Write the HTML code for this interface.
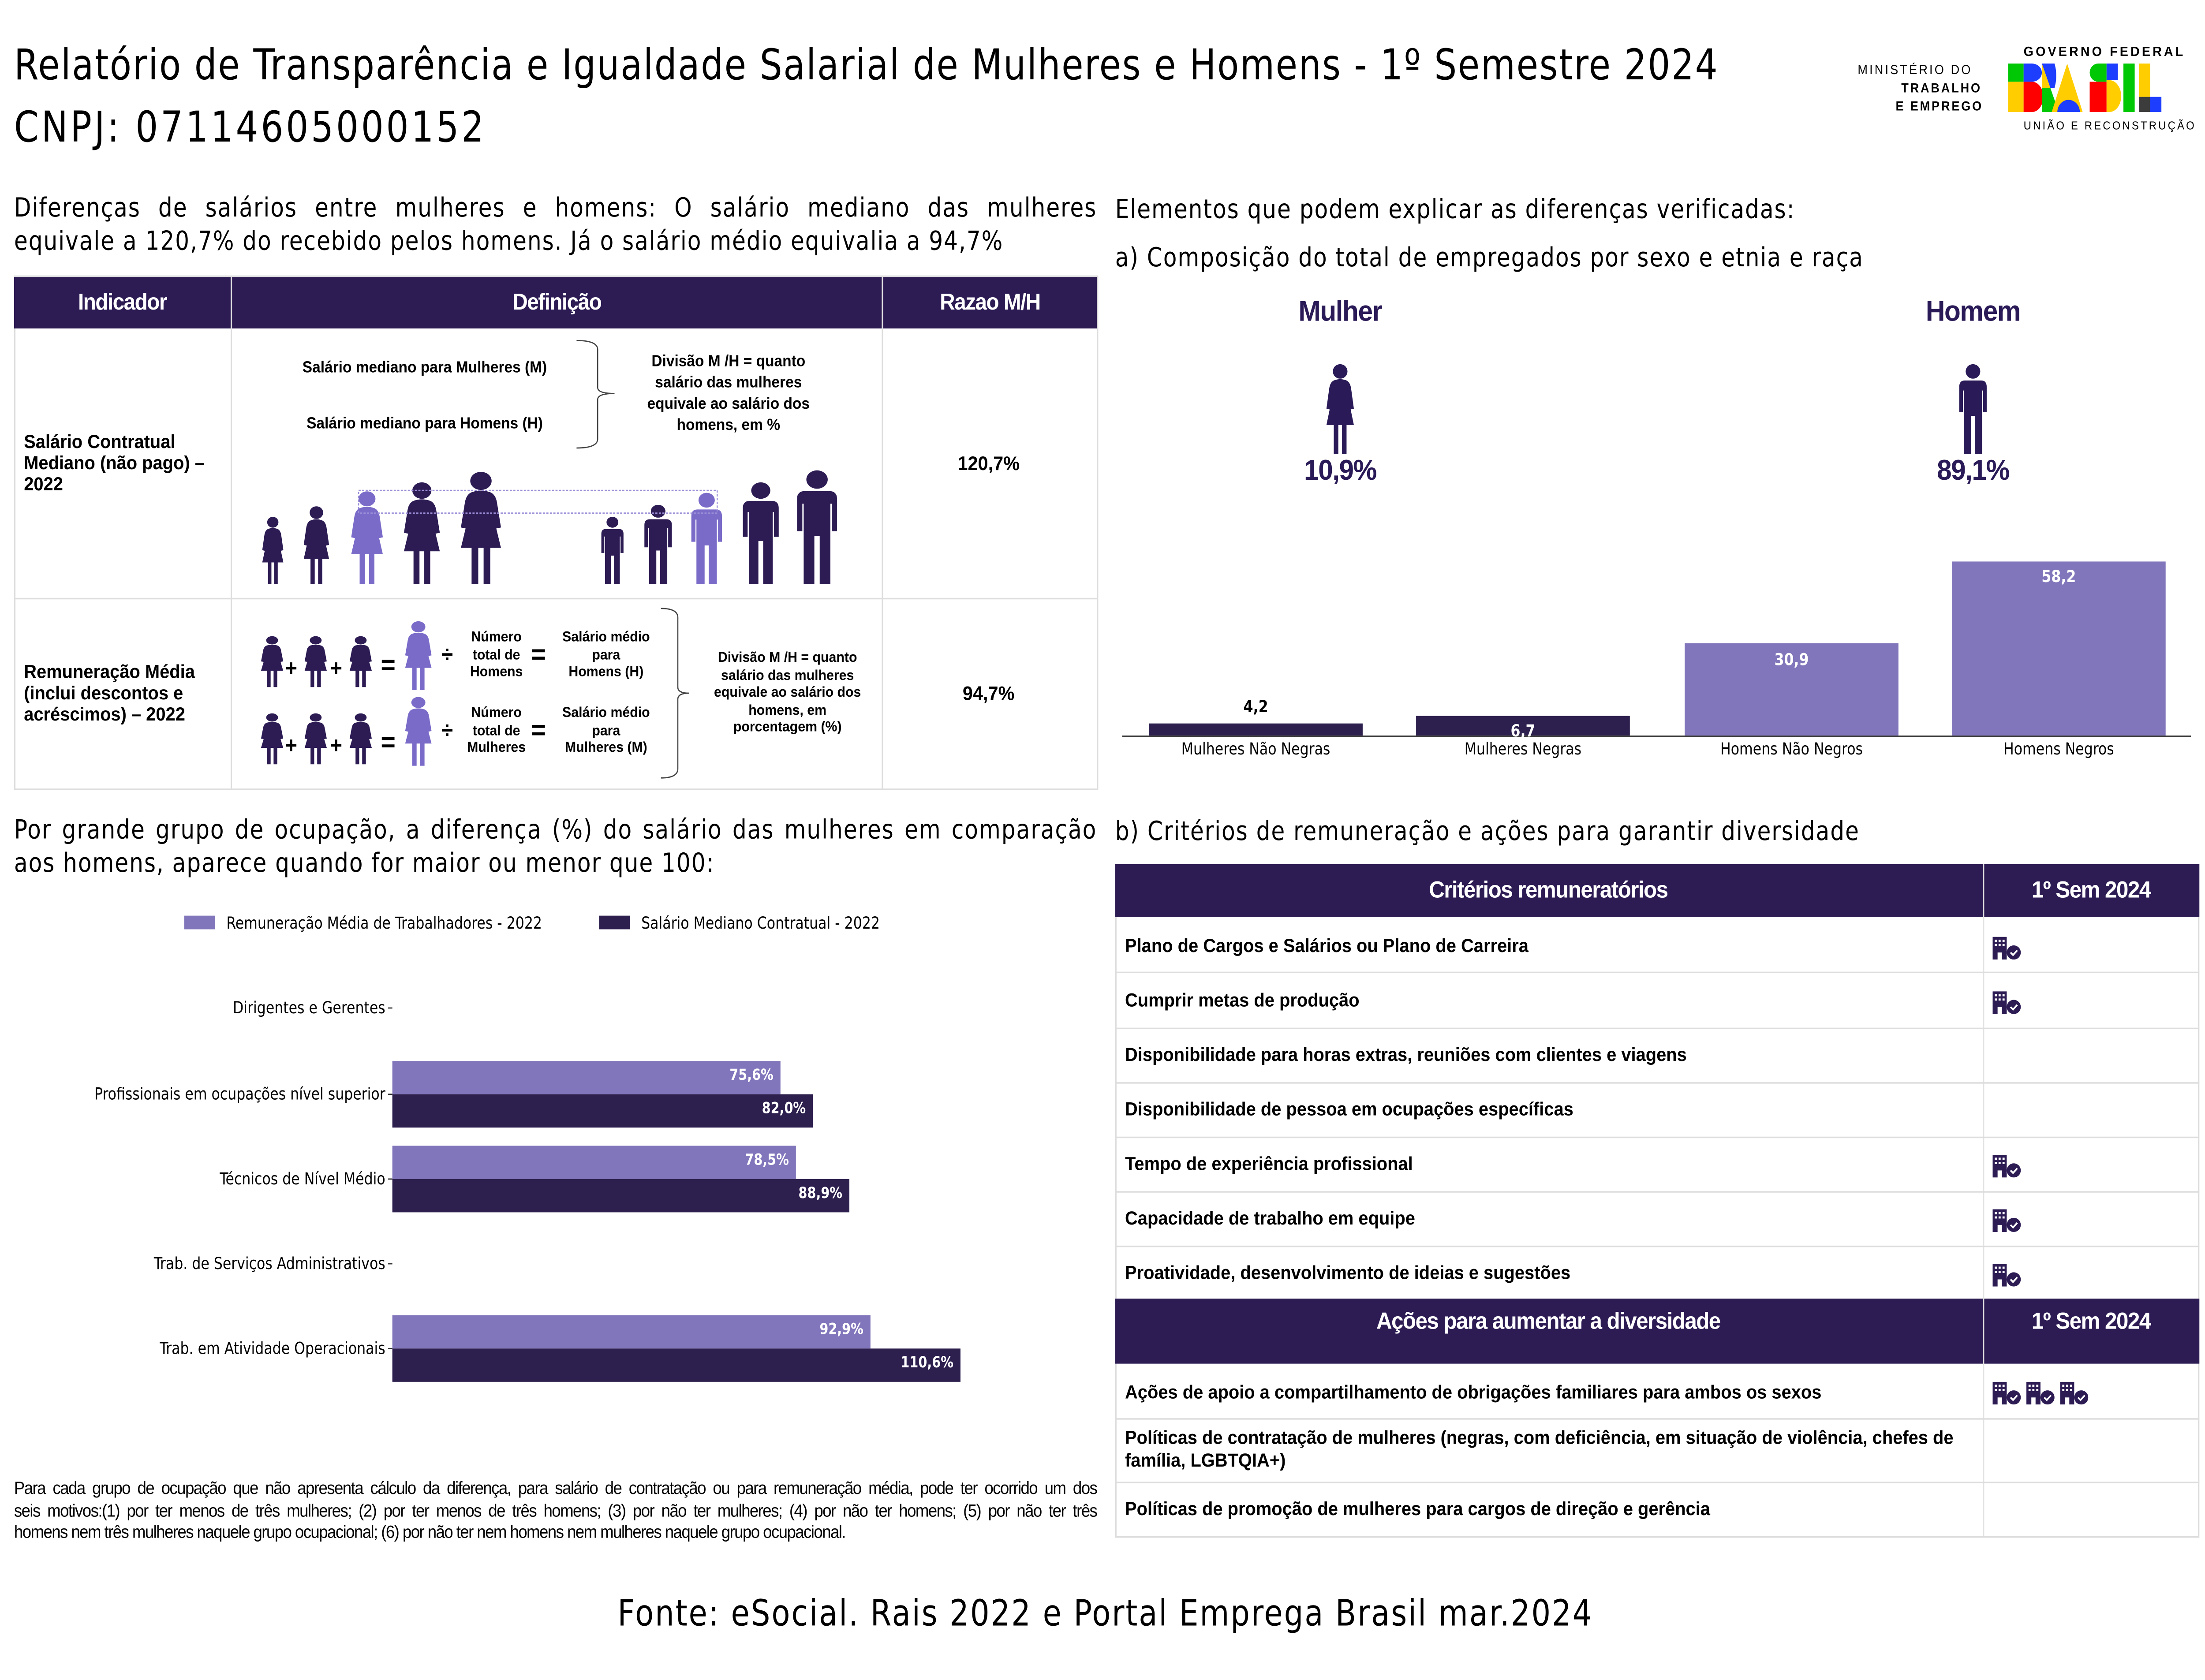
<!DOCTYPE html>
<html><head><meta charset="utf-8">
<style>
html,body{margin:0;padding:0;background:#fff;width:100%;height:100%;overflow:hidden;}
#root{position:fixed;left:0;top:0;width:100vw;height:100vh;display:block;}
#w{position:relative;left:0;top:0;width:1568px;height:1110px;overflow:hidden;font-family:"Liberation Sans",sans-serif;color:#000;background:#fff;}
.t{position:absolute;white-space:nowrap;transform:translateY(-50%);}
.c{position:absolute;white-space:nowrap;transform:translate(-50%,-50%);text-align:center;}
.dj{font-family:"DejaVu Sans Condensed","DejaVu Sans",sans-serif;}
.n{font-family:"Liberation Sans Narrow","Liberation Sans",sans-serif;font-weight:bold;}
.hd{position:absolute;background:#2d1b54;}
.wh{color:#fff;}
.ln{position:absolute;background:#ddd;}
.fn{position:absolute;left:10px;width:770px;font-size:11.5px;line-height:14.5px;letter-spacing:-0.5px;white-space:nowrap;overflow:hidden;}
.jf{text-align:justify;text-align-last:justify;white-space:normal;}
</style></head><body>
<svg id="root" viewBox="0 0 1568 1110" preserveAspectRatio="none" xmlns="http://www.w3.org/2000/svg">
<foreignObject x="0" y="0" width="1568" height="1110">
<div xmlns="http://www.w3.org/1999/xhtml" id="w">

<div class="t dj" style="left:10px;top:43px;font-size:28px;letter-spacing:0.8px;">Relatório de Transparência e Igualdade Salarial de Mulheres e Homens - 1º Semestre 2024</div>
<div class="t dj" style="left:10px;top:84px;font-size:28px;letter-spacing:1.8px;">CNPJ: 07114605000152</div>

<div class="t" style="left:1321px;top:46px;font-size:8.5px;letter-spacing:1.3px;">MINISTÉRIO DO</div>
<div class="t" style="left:1352px;top:58px;font-size:8.5px;letter-spacing:1.2px;font-weight:bold;">TRABALHO</div>
<div class="t" style="left:1348px;top:70px;font-size:8.5px;letter-spacing:1.2px;font-weight:bold;">E EMPREGO</div>
<div class="t" style="left:1439px;top:34px;font-size:9px;letter-spacing:1.6px;font-weight:bold;">GOVERNO FEDERAL</div>
<div class="t" style="left:1439px;top:83px;font-size:7.5px;letter-spacing:1.3px;">UNIÃO E RECONSTRUÇÃO</div>

<svg style="position:absolute;left:0;top:0" width="1568" height="1110" viewBox="0 0 1568 1110" xmlns="http://www.w3.org/2000/svg">
<defs>
<symbol id="wo" viewBox="0 0 40 100" preserveAspectRatio="none">
<circle cx="20" cy="9" r="8"/>
<path d="M13 19 Q20 16 27 19 Q31 21 32 28 L35 50 L31 51 L28 34 L35 68 L5 68 L12 34 L9 51 L5 50 L8 28 Q9 21 13 19Z"/>
<rect x="13" y="67" width="5" height="33"/><rect x="22" y="67" width="5" height="33"/>
</symbol>
<symbol id="ma" viewBox="0 0 40 100" preserveAspectRatio="none">
<circle cx="20" cy="9" r="8"/>
<path d="M11 19 H29 Q35 19 35 26 V54 H31 V30 H30 V100 H22 V58 H18 V100 H10 V30 H9 V54 H5 V26 Q5 19 11 19Z"/>
</symbol>
<symbol id="bd" viewBox="0 0 20 16" preserveAspectRatio="none">
<path d="M0 0 H10 V16 H6.5 V11 H3.5 V16 H0Z" fill="#2d1b54"/>
<rect x="1.5" y="2" width="1.5" height="1.5" fill="#fff"/><rect x="4.2" y="2" width="1.5" height="1.5" fill="#fff"/><rect x="7" y="2" width="1.5" height="1.5" fill="#fff"/>
<rect x="1.5" y="5" width="1.5" height="1.5" fill="#fff"/><rect x="4.2" y="5" width="1.5" height="1.5" fill="#fff"/><rect x="7" y="5" width="1.5" height="1.5" fill="#fff"/>
<circle cx="15" cy="11" r="5" fill="#2d1b54"/><path d="M12.7 11 L14.5 12.8 L17.5 9.5" stroke="#fff" stroke-width="1.2" fill="none"/>
</symbol>
</defs>

<g>
<rect x="1428" y="42" width="11" height="12" fill="#00c805"/>
<rect x="1428" y="54" width="11" height="20" fill="#ffcd00"/>
<path d="M1439 42 h6 a7 6 0 0 1 0 12 h-6z" fill="#1d3dff"/>
<path d="M1439 54 h6 a8 10 0 0 1 0 20 h-6z" fill="#f00"/>
<path d="M1452 42 h9 a9 16 0 0 1 0 16 h-3z" fill="#1d3dff"/>
<path d="M1452 42 l6 16 h-6z" fill="#ffcd00"/>
<path d="M1452 58 h6 l6 16 h-12z" fill="#00c805"/>
<path d="M1470 42 l11 32 h-22z" fill="#ffcd00"/>
<path d="M1463 74 a8 8 0 0 1 16 0z" fill="#1d3dff"/>
<path d="M1492 42 h6 v12 h-6 a6 6 0 0 1 0-12z" fill="#00c805"/>
<rect x="1498" y="42" width="8" height="11" fill="#1d3dff"/>
<rect x="1486" y="54" width="12" height="20" fill="#f00"/>
<path d="M1498 53 h2 a8 10 0 0 1 0 21 h-2z" fill="#ffcd00"/>
<rect x="1510" y="42" width="8" height="32" fill="#00c805"/>
<rect x="1521" y="42" width="8" height="22" fill="#ffcd00"/>
<rect x="1521" y="64" width="8" height="10" fill="#3c3c3c"/>
<rect x="1529" y="64" width="8" height="10" fill="#1d3dff"/>
</g>

<g fill="#2d1b54">
<use href="#wo" x="184" y="341" width="20" height="45"/>
<use href="#wo" x="213" y="334" width="24" height="52"/>
<use href="#wo" x="246" y="324" width="30" height="62" fill="#7b6bc9"/>
<use href="#wo" x="283" y="318" width="34" height="68"/>
<use href="#wo" x="323" y="311" width="38" height="75"/>
<use href="#ma" x="425" y="341" width="21" height="45"/>
<use href="#ma" x="455" y="333" width="26" height="53"/>
<use href="#ma" x="488" y="325" width="29" height="61" fill="#7b6bc9"/>
<use href="#ma" x="524" y="318" width="34" height="68"/>
<use href="#ma" x="562" y="310" width="38" height="76"/>
</g>
<rect x="255" y="324" width="255" height="15" fill="none" stroke="#9b8fd8" stroke-width="0.8" stroke-dasharray="1.5,1"/>
<path d="M410 225 q15 0 15 6 v25 q0 4 12 4 q-12 0 -12 4 v26 q0 6 -15 6" fill="none" stroke="#444" stroke-width="0.8"/>
<g fill="#2d1b54">
<use href="#wo" x="183" y="420" width="21" height="34"/>
<use href="#wo" x="214" y="420" width="21" height="34"/>
<use href="#wo" x="246" y="420" width="21" height="34"/>
<use href="#wo" x="285" y="410" width="25" height="46" fill="#7b6bc9"/>
<use href="#wo" x="183" y="471" width="21" height="34"/>
<use href="#wo" x="214" y="471" width="21" height="34"/>
<use href="#wo" x="246" y="471" width="21" height="34"/>
<use href="#wo" x="285" y="460" width="25" height="46" fill="#7b6bc9"/>
</g>
<path d="M470 402 q12 0 12 6 v46 q0 4 8 4 q-8 0 -8 4 v46 q0 6 -12 6" fill="none" stroke="#444" stroke-width="0.8"/>

<use href="#wo" x="940" y="240" width="26" height="60" fill="#2a1a57"/>
<use href="#ma" x="1390" y="240" width="26" height="60" fill="#2a1a57"/>

<rect x="817" y="478" width="152" height="8" fill="#2d1f4e"/>
<rect x="1007" y="473" width="152" height="13" fill="#2d1f4e"/>
<rect x="1198" y="425" width="152" height="61" fill="#8176bb"/>
<rect x="1388" y="371" width="152" height="115" fill="#8176bb"/>
<rect x="798" y="486" width="760" height="0.8" fill="#333"/>

<rect x="279" y="701" width="276" height="22" fill="#8176bb"/>
<rect x="279" y="723" width="299" height="22" fill="#2d1f4e"/>
<rect x="279" y="757" width="287" height="22" fill="#8176bb"/>
<rect x="279" y="779" width="325" height="22" fill="#2d1f4e"/>
<rect x="279" y="869" width="340" height="22" fill="#8176bb"/>
<rect x="279" y="891" width="404" height="22" fill="#2d1f4e"/>
<g stroke="#333" stroke-width="0.8">
<line x1="276" y1="666" x2="279" y2="666"/><line x1="276" y1="723" x2="279" y2="723"/><line x1="276" y1="779" x2="279" y2="779"/><line x1="276" y1="835" x2="279" y2="835"/><line x1="276" y1="891" x2="279" y2="891"/>
</g>
<rect x="131" y="605" width="22" height="9" fill="#8176bb"/>
<rect x="426" y="605" width="22" height="9" fill="#2d1f4e"/>

<use href="#bd" x="1417" y="619" width="20" height="15"/>
<use href="#bd" x="1417" y="655" width="20" height="15"/>
<use href="#bd" x="1417" y="763" width="20" height="15"/>
<use href="#bd" x="1417" y="799" width="20" height="15"/>
<use href="#bd" x="1417" y="835" width="20" height="15"/>
<use href="#bd" x="1417" y="913" width="20" height="15"/>
<use href="#bd" x="1441" y="913" width="20" height="15"/>
<use href="#bd" x="1465" y="913" width="20" height="15"/>
</svg>

<div class="dj" style="position:absolute;left:10px;top:127px;width:770px;font-size:17.5px;line-height:22px;letter-spacing:0.6px;text-align:justify;text-align-last:left;">Diferenças de salários entre mulheres e homens: O salário mediano das mulheres equivale a 120,7% do recebido pelos homens. Já o salário médio equivalia a 94,7%</div>

<div style="position:absolute;left:10px;top:182px;width:769px;height:338px;border:1px solid #ddd;"></div>
<div class="hd" style="left:10px;top:183px;width:770px;height:34px;"></div>
<div class="ln" style="left:164px;top:183px;width:1px;height:338px;"></div>
<div class="ln" style="left:627px;top:183px;width:1px;height:338px;"></div>
<div class="ln" style="left:10px;top:395px;width:770px;height:1px;"></div>
<div class="c n wh" style="left:87px;top:200px;font-size:15px;letter-spacing:-0.5px;">Indicador</div>
<div class="c n wh" style="left:396px;top:200px;font-size:15px;letter-spacing:-0.5px;">Definição</div>
<div class="c n wh" style="left:704px;top:200px;font-size:15px;letter-spacing:-0.5px;">Razao M/H</div>
<div class="t n" style="left:17px;top:306px;font-size:12.5px;line-height:14px;white-space:normal;width:140px;">Salário Contratual Mediano (não pago) – 2022</div>
<div class="t n" style="left:17px;top:458px;font-size:12.5px;line-height:14px;white-space:normal;width:140px;">Remuneração Média (inclui descontos e acréscimos) – 2022</div>
<div class="c n" style="left:703px;top:306px;font-size:13px;">120,7%</div>
<div class="c n" style="left:703px;top:458px;font-size:13px;">94,7%</div>
<div class="c n" style="left:302px;top:243px;font-size:10.5px;">Salário mediano para Mulheres (M)</div>
<div class="c n" style="left:302px;top:280px;font-size:10.5px;">Salário mediano para Homens (H)</div>
<div class="c n" style="left:518px;top:260px;font-size:10.5px;line-height:14px;">Divisão M /H = quanto<br/>salário das mulheres<br/>equivale ao salário dos<br/>homens, em %</div>
<div class="c n" style="left:560px;top:458px;font-size:9.5px;line-height:11.5px;">Divisão M /H = quanto<br/>salário das mulheres<br/>equivale ao salário dos<br/>homens, em<br/>porcentagem (%)</div>
<div class="c n" style="left:353px;top:433px;font-size:9.5px;line-height:11.5px;">Número<br/>total de<br/>Homens</div>
<div class="c n" style="left:353px;top:483px;font-size:9.5px;line-height:11.5px;">Número<br/>total de<br/>Mulheres</div>
<div class="c n" style="left:431px;top:433px;font-size:9.5px;line-height:11.5px;">Salário médio<br/>para<br/>Homens (H)</div>
<div class="c n" style="left:431px;top:483px;font-size:9.5px;line-height:11.5px;">Salário médio<br/>para<br/>Mulheres (M)</div>
<div class="c" style="left:207px;top:442px;font-size:15px;font-weight:bold;">+</div>
<div class="c" style="left:239px;top:442px;font-size:15px;font-weight:bold;">+</div>
<div class="c" style="left:276px;top:440px;font-size:18px;font-weight:bold;">=</div>
<div class="c" style="left:318px;top:433px;font-size:15px;font-weight:bold;">÷</div>
<div class="c" style="left:383px;top:433px;font-size:18px;font-weight:bold;">=</div>
<div class="c" style="left:207px;top:493px;font-size:15px;font-weight:bold;">+</div>
<div class="c" style="left:239px;top:493px;font-size:15px;font-weight:bold;">+</div>
<div class="c" style="left:276px;top:491px;font-size:18px;font-weight:bold;">=</div>
<div class="c" style="left:318px;top:483px;font-size:15px;font-weight:bold;">÷</div>
<div class="c" style="left:383px;top:483px;font-size:18px;font-weight:bold;">=</div>

<div class="t dj" style="left:793px;top:139px;font-size:17.5px;letter-spacing:0.6px;">Elementos que podem explicar as diferenças verificadas:</div>
<div class="t dj" style="left:793px;top:171px;font-size:17.5px;letter-spacing:0.6px;">a) Composição do total de empregados por sexo e etnia e raça</div>
<div class="c n" style="left:953px;top:207px;font-size:19px;color:#2a1a57;letter-spacing:-0.5px;">Mulher</div>
<div class="c n" style="left:1403px;top:207px;font-size:19px;color:#2a1a57;letter-spacing:-0.5px;">Homem</div>
<div class="c n" style="left:953px;top:312px;font-size:19px;color:#2a1a57;letter-spacing:-0.5px;">10,9%</div>
<div class="c n" style="left:1403px;top:312px;font-size:19px;color:#2a1a57;letter-spacing:-0.5px;">89,1%</div>
<div class="c dj" style="left:893px;top:467px;font-size:11px;font-weight:bold;">4,2</div>
<div class="c dj" style="left:1083px;top:483px;font-size:11px;font-weight:bold;color:#fff;">6,7</div>
<div class="c dj" style="left:1274px;top:436px;font-size:11px;font-weight:bold;color:#fff;">30,9</div>
<div class="c dj" style="left:1464px;top:381px;font-size:11px;font-weight:bold;color:#fff;">58,2</div>
<div class="c dj" style="left:893px;top:495px;font-size:11px;">Mulheres Não Negras</div>
<div class="c dj" style="left:1083px;top:495px;font-size:11px;">Mulheres Negras</div>
<div class="c dj" style="left:1274px;top:495px;font-size:11px;">Homens Não Negros</div>
<div class="c dj" style="left:1464px;top:495px;font-size:11px;">Homens Negros</div>

<div class="dj" style="position:absolute;left:10px;top:538px;width:770px;font-size:17.5px;line-height:22px;letter-spacing:0.6px;text-align:justify;text-align-last:left;">Por grande grupo de ocupação, a diferença (%) do salário das mulheres em comparação aos homens, aparece quando for maior ou menor que 100:</div>
<div class="t dj" style="left:161px;top:610px;font-size:11px;">Remuneração Média de Trabalhadores - 2022</div>
<div class="t dj" style="left:456px;top:610px;font-size:11px;">Salário Mediano Contratual - 2022</div>
<div class="t dj" style="right:1294px;top:666px;font-size:11px;">Dirigentes e Gerentes</div>
<div class="t dj" style="right:1294px;top:723px;font-size:11px;">Profissionais em ocupações nível superior</div>
<div class="t dj" style="right:1294px;top:779px;font-size:11px;">Técnicos de Nível Médio</div>
<div class="t dj" style="right:1294px;top:835px;font-size:11px;">Trab. de Serviços Administrativos</div>
<div class="t dj" style="right:1294px;top:891px;font-size:11px;">Trab. em Atividade Operacionais</div>
<div class="t dj wh" style="right:1018px;top:711px;font-size:10px;font-weight:bold;">75,6%</div>
<div class="t dj wh" style="right:995px;top:733px;font-size:10px;font-weight:bold;">82,0%</div>
<div class="t dj wh" style="right:1007px;top:767px;font-size:10px;font-weight:bold;">78,5%</div>
<div class="t dj wh" style="right:969px;top:789px;font-size:10px;font-weight:bold;">88,9%</div>
<div class="t dj wh" style="right:954px;top:879px;font-size:10px;font-weight:bold;">92,9%</div>
<div class="t dj wh" style="right:890px;top:901px;font-size:10px;font-weight:bold;">110,6%</div>
<div class="fn jf" style="top:977px;height:15px;">Para cada grupo de ocupação que não apresenta cálculo da diferença, para salário de contratação ou para remuneração média, pode ter ocorrido um dos</div>
<div class="fn jf" style="top:992px;height:15px;">seis motivos:(1) por ter menos de três mulheres; (2) por ter menos de três homens; (3) por não ter mulheres; (4) por não ter homens; (5) por não ter três</div>
<div class="fn" style="top:1006px;height:15px;">homens nem três mulheres naquele grupo ocupacional; (6) por não ter nem homens nem mulheres naquele grupo ocupacional.</div>

<div class="t dj" style="left:793px;top:550px;font-size:17.5px;letter-spacing:0.6px;">b) Critérios de remuneração e ações para garantir diversidade</div>
<div style="position:absolute;left:793px;top:571px;width:769px;height:443px;border:1px solid #ddd;"></div>
<div class="hd" style="left:793px;top:571px;width:771px;height:35px;"></div>
<div class="hd" style="left:793px;top:858px;width:771px;height:43px;"></div>
<div class="ln" style="left:1410px;top:571px;width:1px;height:444px;background:#e2e2e2;"></div>
<div class="ln" style="left:793px;top:642px;width:771px;height:1px;"></div>
<div class="ln" style="left:793px;top:679px;width:771px;height:1px;"></div>
<div class="ln" style="left:793px;top:715px;width:771px;height:1px;"></div>
<div class="ln" style="left:793px;top:751px;width:771px;height:1px;"></div>
<div class="ln" style="left:793px;top:787px;width:771px;height:1px;"></div>
<div class="ln" style="left:793px;top:823px;width:771px;height:1px;"></div>
<div class="ln" style="left:793px;top:937px;width:771px;height:1px;"></div>
<div class="ln" style="left:793px;top:979px;width:771px;height:1px;"></div>
<div class="c n wh" style="left:1101px;top:589px;font-size:15.5px;letter-spacing:-0.5px;">Critérios remuneratórios</div>
<div class="c n wh" style="left:1487px;top:589px;font-size:15.5px;letter-spacing:-0.5px;">1º Sem 2024</div>
<div class="c n wh" style="left:1101px;top:874px;font-size:15.5px;letter-spacing:-0.5px;">Ações para aumentar a diversidade</div>
<div class="c n wh" style="left:1487px;top:874px;font-size:15.5px;letter-spacing:-0.5px;">1º Sem 2024</div>
<div class="t n" style="left:800px;top:625px;font-size:12.5px;">Plano de Cargos e Salários ou Plano de Carreira</div>
<div class="t n" style="left:800px;top:661px;font-size:12.5px;">Cumprir metas de produção</div>
<div class="t n" style="left:800px;top:697px;font-size:12.5px;">Disponibilidade para horas extras, reuniões com clientes e viagens</div>
<div class="t n" style="left:800px;top:733px;font-size:12.5px;">Disponibilidade de pessoa em ocupações específicas</div>
<div class="t n" style="left:800px;top:769px;font-size:12.5px;">Tempo de experiência profissional</div>
<div class="t n" style="left:800px;top:805px;font-size:12.5px;">Capacidade de trabalho em equipe</div>
<div class="t n" style="left:800px;top:841px;font-size:12.5px;">Proatividade, desenvolvimento de ideias e sugestões</div>
<div class="t n" style="left:800px;top:920px;font-size:12.5px;">Ações de apoio a compartilhamento de obrigações familiares para ambos os sexos</div>
<div class="t n" style="left:800px;top:958px;font-size:12.5px;line-height:15px;white-space:normal;width:600px;">Políticas de contratação de mulheres (negras, com deficiência, em situação de violência, chefes de família, LGBTQIA+)</div>
<div class="t n" style="left:800px;top:997px;font-size:12.5px;">Políticas de promoção de mulheres para cargos de direção e gerência</div>

<div class="c dj" style="left:786px;top:1066px;font-size:24px;letter-spacing:0.9px;">Fonte: eSocial. Rais 2022 e Portal Emprega Brasil mar.2024</div>
</div>
</foreignObject>
</svg>
</body></html>
